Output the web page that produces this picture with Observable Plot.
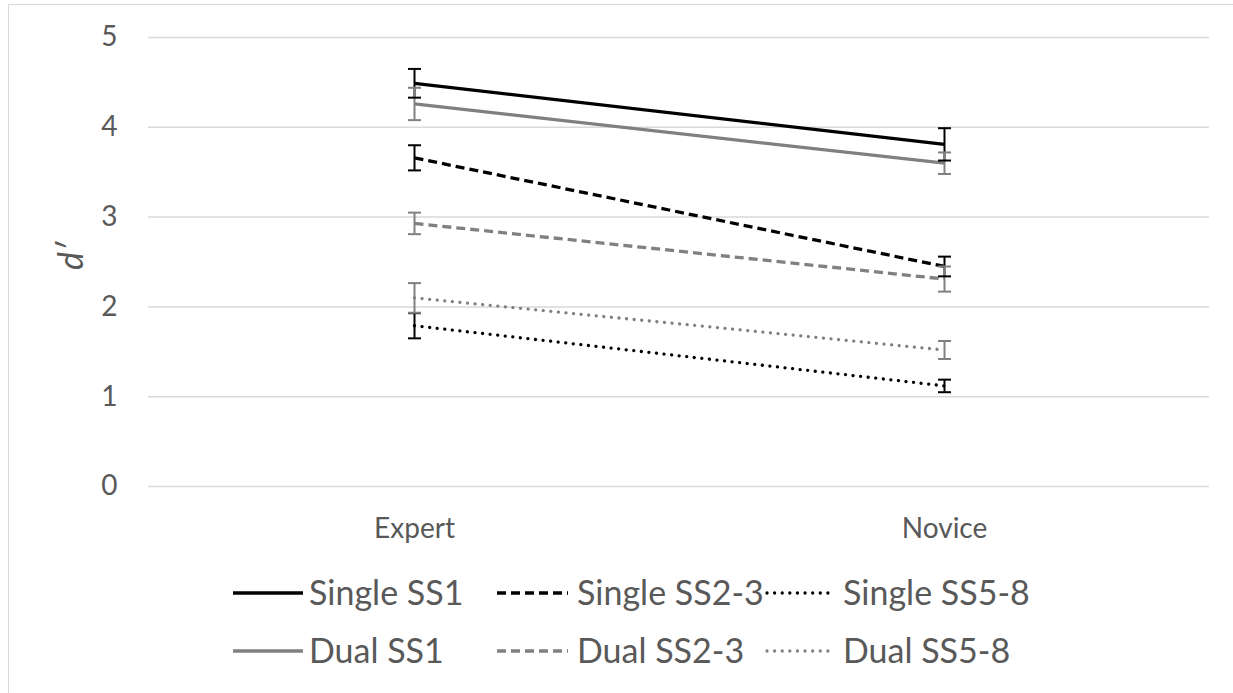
<!DOCTYPE html>
<html>
<head>
<meta charset="utf-8">
<script src="https://cdn.jsdelivr.net/npm/d3@7"></script>
<script src="https://cdn.jsdelivr.net/npm/@observablehq/plot@0.6"></script>
<style>
  html, body { margin: 0; padding: 0; background: #fff; overflow: hidden; }
  body { width: 1233px; height: 693px; position: relative; font-family: Lato, "Open Sans", sans-serif; }
  #frame { position: absolute; left: 8px; top: 4px; width: 1400px; height: 900px;
           border-left: 1.5px solid #d9d9d9; border-top: 1.5px solid #d9d9d9; }
  #chart { position: absolute; left: 0; top: 0; }
  #legend { position: absolute; left: 0; top: 565px; }
</style>
</head>
<body>
<div id="frame"></div>
<div id="chart"></div>
<div id="legend"></div>
<script>
// Groups along the x axis
const groups = ["Expert", "Novice"];
// Conditions (series), in legend order
const series = ["Single SS1", "Single SS2-3", "Single SS5-8", "Dual SS1", "Dual SS2-3", "Dual SS5-8"];
// Mean d' per condition
const expertMeans = [4.49, 3.66, 1.79, 4.26, 2.93, 2.10];
const noviceMeans = [3.81, 2.45, 1.12, 3.60, 2.31, 1.52];
// Error bar half-widths
const expertErr = [0.16, 0.14, 0.14, 0.18, 0.12, 0.165];
const noviceErr = [0.18, 0.11, 0.07, 0.12, 0.14, 0.10];
// y-axis ticks
const yTicks = [0, 1, 2, 3, 4, 5];

// Line styling per series
const seriesColor = ["#000000", "#000000", "#000000", "#808080", "#808080", "#808080"];
const seriesDash = ["none", "9,5", "0.01,7.6", "none", "9,5", "0.01,7.6"];
const seriesCap = ["butt", "butt", "round", "butt", "butt", "round"];

const rows = [];
groups.forEach((g, gi) => {
  series.forEach((s, si) => {
    rows.push({
      group: g,
      series: s,
      mean: gi === 0 ? expertMeans[si] : noviceMeans[si],
      err: gi === 0 ? expertErr[si] : noviceErr[si],
      color: seriesColor[si]
    });
  });
});

// Horizontal cap for the error bars
const capSymbol = {
  draw(context) {
    context.moveTo(-6.5, 0);
    context.lineTo(6.5, 0);
  }
};

const textColor = "#595959";

const lineMarks = series.map((s, si) =>
  Plot.line(rows.filter(d => d.series === s), {
    x: "group",
    y: "mean",
    stroke: seriesColor[si],
    strokeWidth: 3.3,
    strokeDasharray: seriesDash[si] === "none" ? null : seriesDash[si],
    strokeLinecap: seriesCap[si]
  })
);

const chart = Plot.plot({
  width: 1233,
  height: 565,
  marginLeft: 148,
  marginRight: 24,
  marginTop: 37,
  marginBottom: 79,
  style: { fontFamily: "Lato, 'Open Sans', sans-serif", background: "transparent", overflow: "visible" },
  x: { type: "point", domain: groups, padding: 0.5, axis: null },
  y: { domain: [0, 5], axis: null },
  color: { type: "identity" },
  marks: [
    Plot.ruleY(yTicks, { stroke: "#d9d9d9", strokeWidth: 1.5 }),
    Plot.axisY(yTicks, { tickSize: 0, tickPadding: 31, fontSize: 28, color: textColor, label: null, tickFormat: d3.format("d") }),
    Plot.axisX({ tickSize: 0, tickPadding: 32, fontSize: 28, color: textColor, label: null }),
    Plot.text(["d′"], {
      frameAnchor: "left", dx: -76, dy: 8, rotate: -90,
      fontSize: 34, fontStyle: "italic", fill: textColor
    }),
    ...lineMarks,
    Plot.ruleX(rows, {
      x: "group",
      y1: d => d.mean - d.err,
      y2: d => d.mean + d.err,
      stroke: "color",
      strokeWidth: 2
    }),
    Plot.dot(rows, { x: "group", y: d => d.mean + d.err, symbol: capSymbol, stroke: "color", strokeWidth: 2, fill: "none" }),
    Plot.dot(rows, { x: "group", y: d => d.mean - d.err, symbol: capSymbol, stroke: "color", strokeWidth: 2, fill: "none" })
  ]
});
document.getElementById("chart").appendChild(chart);

// Legend: two rows of three entries below the plot
const legendCols = [233, 497, 767];
const legendTextX = [309, 577, 843];
const legendRowsY = [28, 86];
const swatchEnd = [303, 568, 830];

const leg = d3.select("#legend").append("svg")
  .attr("width", 1233).attr("height", 128)
  .style("font-family", "Lato, 'Open Sans', sans-serif");

series.forEach((s, si) => {
  const col = si % 3, row = Math.floor(si / 3);
  const y = legendRowsY[row];
  leg.append("line")
    .attr("x1", legendCols[col]).attr("x2", swatchEnd[col])
    .attr("y1", y).attr("y2", y)
    .attr("stroke", seriesColor[si])
    .attr("stroke-width", 3.3)
    .attr("stroke-dasharray", seriesDash[si] === "none" ? null : seriesDash[si])
    .attr("stroke-linecap", seriesCap[si]);
  leg.append("text")
    .attr("x", legendTextX[col]).attr("y", y)
    .attr("dy", "0.35em")
    .attr("font-size", 34)
    .attr("fill", textColor)
    .text(s);
});
</script>
</body>
</html>
